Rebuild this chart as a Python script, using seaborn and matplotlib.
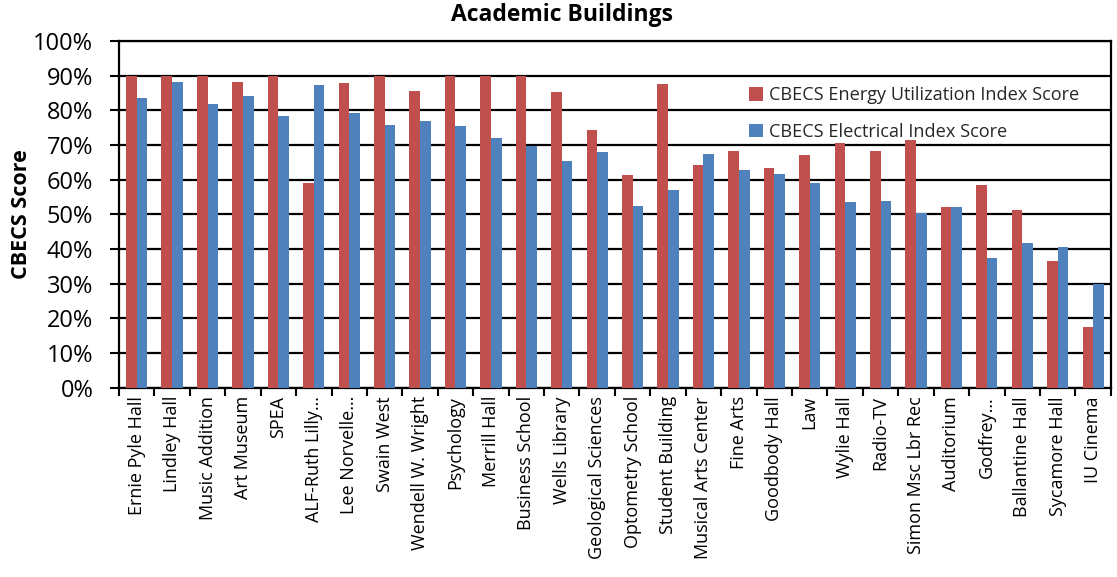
import matplotlib
matplotlib.use("Agg")
import matplotlib.pyplot as plt
from matplotlib.ticker import FixedLocator, PercentFormatter, NullFormatter
import seaborn as sns
import pandas as pd
import numpy as np

buildings = [
    "Ernie Pyle Hall", "Lindley Hall", "Music Addition", "Art Museum", "SPEA",
    "ALF-Ruth Lilly\u2026", "Lee Norvelle\u2026", "Swain West", "Wendell W. Wright",
    "Psychology", "Merrill Hall", "Business School", "Wells Library",
    "Geological Sciences", "Optometry School", "Student Building",
    "Musical Arts Center", "Fine Arts", "Goodbody Hall", "Law", "Wylie Hall",
    "Radio-TV", "Simon Msc Lbr Rec", "Auditorium", "Godfrey\u2026",
    "Ballantine Hall", "Sycamore Hall", "IU Cinema",
]

energy_score = [
    90.0, 90.0, 90.0, 88.1, 90.0, 59.0, 87.9, 90.0, 85.5, 90.0, 90.0, 90.0,
    85.2, 74.4, 61.3, 87.6, 64.2, 68.4, 63.4, 67.0, 70.6, 68.3, 71.5, 52.1,
    58.4, 51.2, 36.5, 17.4,
]

electrical_score = [
    83.6, 88.1, 81.7, 84.1, 78.5, 87.2, 79.2, 75.7, 77.0, 75.5, 71.9, 69.6,
    65.3, 68.0, 52.4, 57.0, 67.5, 62.8, 61.7, 59.0, 53.6, 53.9, 50.4, 52.0,
    37.4, 41.7, 40.5, 29.9,
]

series_names = ["CBECS Energy Utilization Index Score", "CBECS Electrical Index Score"]
series_colors = ["#C0504D", "#4F81BD"]

df = pd.DataFrame({
    "Building": buildings * 2,
    "Score": energy_score + electrical_score,
    "Series": [series_names[0]] * len(buildings) + [series_names[1]] * len(buildings),
})

sns.set_theme(style="white")
plt.rcParams["font.family"] = ["Open Sans", "DejaVu Sans"]

fig = plt.figure(figsize=(11.17, 5.77), dpi=100)
ax = fig.add_axes([0.1065, 0.328, 0.888, 0.601])

sns.barplot(
    data=df, x="Building", y="Score", hue="Series",
    order=buildings, hue_order=series_names, palette=series_colors,
    width=0.6, saturation=1, linewidth=0, ax=ax, zorder=3,
)

ax.set_ylim(0, 100)
ax.set_xlim(-0.5, len(buildings) - 0.5)
ax.yaxis.set_major_locator(FixedLocator(np.arange(0, 101, 10)))
ax.yaxis.set_major_formatter(PercentFormatter(decimals=0))
ax.grid(axis="y", color="black", linewidth=1.6, zorder=0)
ax.set_axisbelow(True)

for side in ["left", "right", "top", "bottom"]:
    ax.spines[side].set_visible(True)
    ax.spines[side].set_color("black")
    ax.spines[side].set_linewidth(1.6)

# tick marks sit between category groups, labels centred under each group
ax.xaxis.set_minor_locator(FixedLocator(np.arange(-0.5, len(buildings), 1.0)))
ax.xaxis.set_minor_formatter(NullFormatter())
ax.tick_params(axis="x", which="major", length=0, pad=6, labelsize=13, rotation=90)
ax.tick_params(axis="x", which="minor", length=6, width=1.5, color="black", direction="out", bottom=True)
ax.tick_params(axis="y", which="major", length=6.5, width=1.5, color="black", direction="out",
               left=True, labelsize=17, pad=12)
for lab in ax.get_xticklabels():
    lab.set_color("black")
for lab in ax.get_yticklabels():
    lab.set_color("black")

ax.set_xlabel("")
ax.set_ylabel("CBECS Score", fontsize=15.5, fontweight="bold", color="black", labelpad=1)

handles, labels = ax.get_legend_handles_labels()
ax.legend(
    handles, labels, loc="upper left", bbox_to_anchor=(0.628, 0.89),
    frameon=False, fontsize=13.1, handlelength=0.75, handleheight=0.75,
    handletextpad=0.35, labelspacing=1.0, borderaxespad=0,
)

fig.suptitle("Academic Buildings", x=0.503, y=0.995, fontsize=16.5, fontweight="bold", color="black")

fig.savefig("out.png", dpi=100)
